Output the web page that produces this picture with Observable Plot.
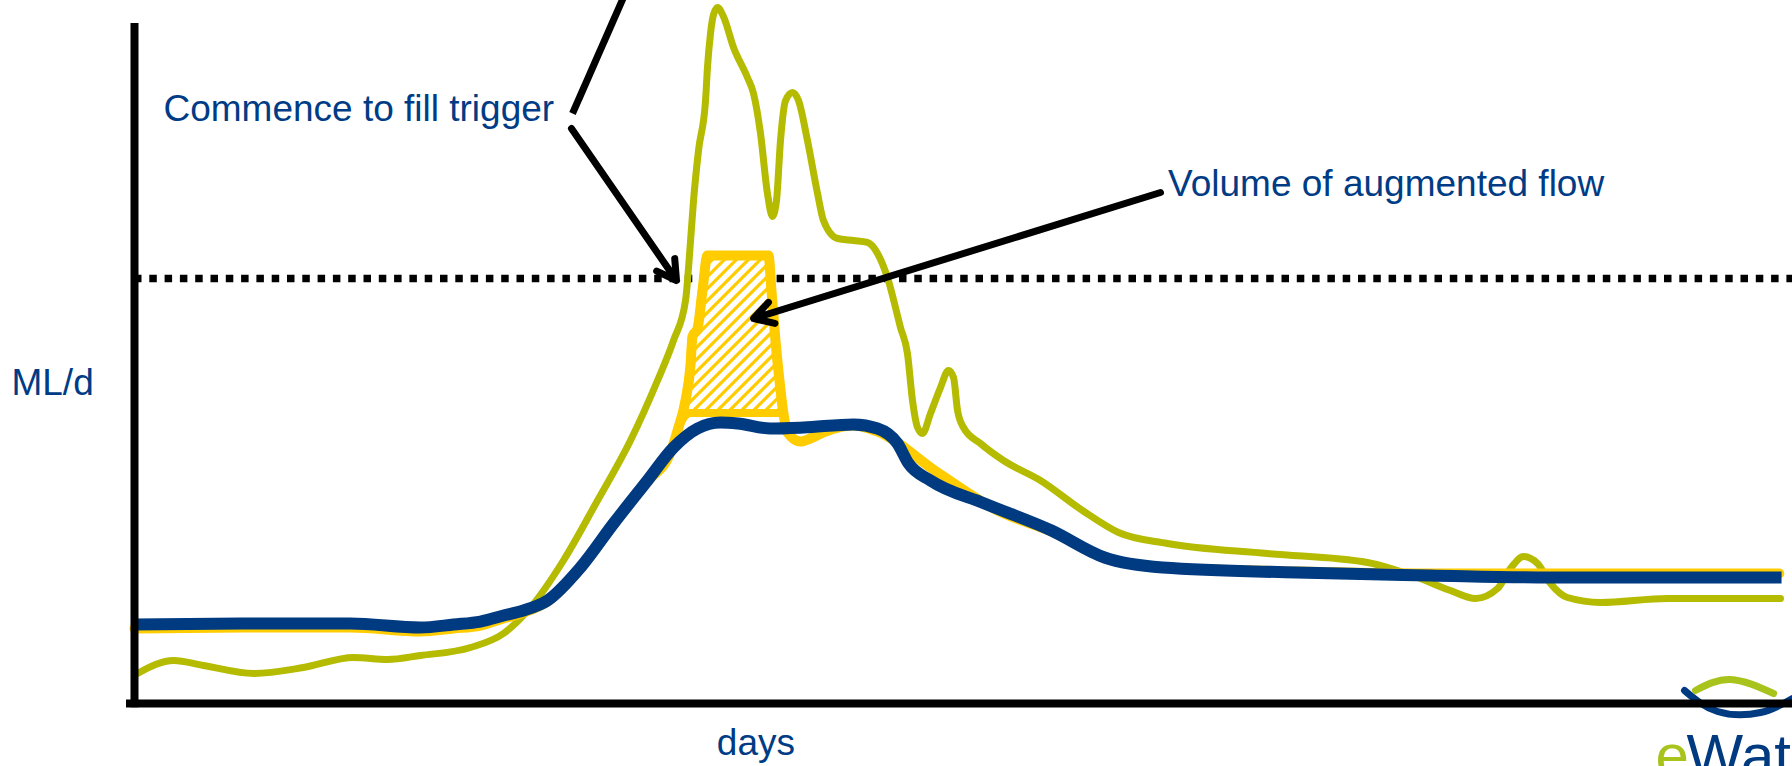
<!DOCTYPE html>
<html>
<head>
<meta charset="utf-8">
<script src="https://cdn.jsdelivr.net/npm/d3@7"></script>
<script src="https://cdn.jsdelivr.net/npm/@observablehq/plot@0.6"></script>
<style>
html, body { margin: 0; padding: 0; background: #fff; overflow: hidden; }
#chart svg { display: block; }
</style>
</head>
<body>
<div id="chart"></div>
<script>
// ---- Natural (unregulated) flow, green ----
const naturalDays = [0.19, 2.44, 4.31, 7.44, 10.56, 13.69, 15.81, 17.88, 21.0, 23.06, 24.75, 26.81, 28.94, 31.0, 32.69, 33.69, 34.44, 34.75, 34.94, 35.25, 35.69, 35.81, 36.0, 36.19, 36.44, 36.81, 37.44, 38.31, 38.69, 39.125, 39.56, 39.875, 40.125, 40.375, 40.69, 41.125, 41.5, 42.06, 42.69, 43.06, 43.94, 44.94, 45.81, 46.44, 47.06, 47.875, 48.31, 48.625, 48.94, 49.25, 49.75, 50.375, 50.875, 51.19, 51.44, 51.81, 52.875, 54.31, 56.625, 59.25, 61.5, 64.56, 70.81, 77.06, 80.19, 82.25, 83.81, 85.19, 86.0, 86.81, 87.69, 88.5, 89.56, 91.625, 95.81, 102.875];
const naturalFlow = [4.29, 6.14, 5.43, 4.29, 5.14, 6.57, 6.29, 6.86, 8.0, 10.0, 13.71, 20.43, 29.0, 37.57, 46.14, 51.86, 57.57, 66.0, 71.86, 79.0, 86.14, 90.86, 95.71, 98.43, 99.43, 98.14, 93.71, 89.43, 87.14, 81.43, 72.86, 69.57, 71.86, 80.43, 86.14, 87.29, 86.14, 80.43, 72.86, 69.0, 66.43, 66.14, 65.86, 64.29, 60.86, 53.71, 50.0, 43.29, 39.43, 38.57, 41.43, 45.14, 47.57, 46.57, 41.86, 39.43, 37.14, 34.71, 31.86, 27.57, 24.43, 22.86, 21.43, 20.14, 18.0, 16.14, 15.0, 16.43, 19.29, 21.0, 20.0, 17.14, 15.14, 14.43, 15.0, 15.0];

// ---- Regulated flow, blue ----
const regulatedDays = [0, 7.25, 13.5, 17.875, 19.94, 21.625, 23.06, 24.31, 25.81, 27.875, 29.94, 32.06, 33.69, 35.19, 36.625, 37.69, 39.75, 41.81, 44.94, 46.44, 47.69, 48.375, 49.75, 53.125, 57.31, 60.625, 64.25, 72.625, 81.0, 88.5, 102.94];
const regulatedFlow = [11.29, 11.43, 11.43, 10.86, 11.29, 11.71, 12.57, 13.29, 14.71, 19.43, 25.71, 31.86, 36.57, 39.29, 40.14, 40.0, 39.29, 39.43, 39.86, 39.29, 37.14, 34.29, 31.86, 28.57, 24.71, 20.86, 19.43, 18.71, 18.29, 18.0, 18.0];

// ---- Flow with augmentation, yellow ----
const augmentedDays = [0, 7.25, 13.5, 17.875, 19.94, 21.625, 23.06, 24.31, 25.81, 27.875, 29.94, 32.06, 33.5, 33.94, 34.44, 34.75, 34.875, 35.19, 35.5, 35.81, 39.625, 39.81, 40.06, 40.31, 40.56, 40.81, 41.625, 42.375, 43.19, 44.94, 46.44, 50.19, 53.94, 57.31, 60.625, 64.25, 72.625, 81.0, 88.5, 102.8];
const augmentedFlow = [10.71, 10.86, 10.86, 10.29, 10.71, 11.14, 12.14, 13.0, 14.57, 19.29, 25.57, 31.71, 35.86, 39.0, 43.29, 48.29, 52.43, 53.57, 59.0, 64.0, 64.0, 59.0, 51.86, 46.14, 41.43, 38.71, 37.43, 38.0, 38.86, 39.71, 38.86, 33.0, 27.57, 24.57, 20.86, 19.43, 18.86, 18.57, 18.57, 18.57];

// ---- Volume of augmented flow (hatched) ----
const volumeDays = [33.94, 34.44, 34.75, 34.875, 35.19, 35.5, 35.81, 39.625, 39.81, 40.06, 40.31, 40.56];
const volumeTop  = [39.0, 43.29, 48.29, 52.43, 53.57, 59.0, 64.0, 64.0, 59.0, 51.86, 46.14, 41.43];
const volumeBase = [39.0, 41.0, 41.43, 41.43, 41.43, 41.43, 41.43, 41.43, 41.43, 41.43, 41.43, 41.43];

// ---- Commence to fill trigger level ----
const triggerLevel = 60.71;

// ---- Axis extents ----
const xDomain = [0, 103.625];
const yDomain = [0, 100];

// ---- Annotations ----
const labelText = ["Commence to fill trigger", "Volume of augmented flow", "ML/d"];
const labelX = [1.81, 64.6, -7.69];
const labelY = [84.86, 74.2, 45.7];
const axisLabelText = ["days"];
const axisLabelX = [38.84];
const axisLabelY = [-5.71];

const arrowX1 = [27.31, 64.125];
const arrowY1 = [82.14, 73.0];
const arrowX2 = [33.875, 38.69];
const arrowY2 = [60.43, 55.0];
const leaderX1 = [27.375];
const leaderY1 = [84.29];
const leaderX2 = [30.75];
const leaderY2 = [101.86];

// ---- Logo ----
const logoText = ["e", "Water"];
const logoX = [95.06, 97.0];
const logoY = [-10.29, -10.29];
const logoGreenDays = [97.56, 99.75, 102.44];
const logoGreenFlow = [1.86, 3.43, 1.43];
const logoBlueDays = [96.875, 98.94, 101.625, 103.625];
const logoBlueFlow = [1.86, -1.14, -1.29, 0.71];

const GREEN = "#b4bb00";
const BLUE = "#003a80";
const YELLOW = "#ffcc00";
const TEXT = "#003c85";
const LOGO_GREEN = "#a8c41c";

const toRows = (xs, ys) => xs.map((x, i) => ({x, y: ys[i]}));
const natural = toRows(naturalDays, naturalFlow);
const regulated = toRows(regulatedDays, regulatedFlow);
const augmented = toRows(augmentedDays, augmentedFlow);
const volume = volumeDays.map((x, i) => ({x, y1: volumeBase[i], y2: volumeTop[i]}));
const labels = labelText.map((t, i) => ({t, x: labelX[i], y: labelY[i]}));
const axisLabels = axisLabelText.map((t, i) => ({t, x: axisLabelX[i], y: axisLabelY[i]}));
const arrows = arrowX1.map((x1, i) => ({x1, y1: arrowY1[i], x2: arrowX2[i], y2: arrowY2[i]}));
const leaders = leaderX1.map((x1, i) => ({x1, y1: leaderY1[i], x2: leaderX2[i], y2: leaderY2[i]}));
const logo = logoText.map((t, i) => ({t, x: logoX[i], y: logoY[i], c: i === 0 ? LOGO_GREEN : BLUE}));

const hatchDefs = () => {
  const ns = "http://www.w3.org/2000/svg";
  const defs = document.createElementNS(ns, "defs");
  const pat = document.createElementNS(ns, "pattern");
  pat.setAttribute("id", "hatchAug");
  pat.setAttribute("patternUnits", "userSpaceOnUse");
  pat.setAttribute("width", "12");
  pat.setAttribute("height", "12");
  const bg = document.createElementNS(ns, "rect");
  bg.setAttribute("width", "12");
  bg.setAttribute("height", "12");
  bg.setAttribute("fill", "white");
  const p = document.createElementNS(ns, "path");
  p.setAttribute("d", "M-3,3L3,-3M0,12L12,0M9,15L15,9");
  p.setAttribute("stroke", YELLOW);
  p.setAttribute("stroke-width", "3.2");
  pat.appendChild(bg);
  pat.appendChild(p);
  defs.appendChild(pat);
  return defs;
};

const chart = Plot.plot({
  width: 1792,
  height: 766,
  marginLeft: 134,
  marginRight: 0,
  marginTop: 3,
  marginBottom: 63,
  x: {domain: xDomain, axis: null},
  y: {domain: yDomain, axis: null},
  color: {type: "identity"},
  style: {fontFamily: "'Liberation Sans', Arial, sans-serif", background: "white"},
  marks: [
    hatchDefs,
    // logo
    Plot.line(toRows(logoBlueDays, logoBlueFlow), {x: "x", y: "y", stroke: BLUE, strokeWidth: 7, curve: "natural"}),
    Plot.line(toRows(logoGreenDays, logoGreenFlow), {x: "x", y: "y", stroke: LOGO_GREEN, strokeWidth: 7, curve: "natural"}),
    Plot.text(logo, {x: "x", y: "y", text: "t", fill: "c", fontSize: 60, textAnchor: "start", lineAnchor: "bottom"}),
    // trigger
    Plot.ruleY([triggerLevel], {x1: xDomain[0], x2: xDomain[1], stroke: "black", strokeWidth: 7.5, strokeDasharray: "7.5,7.8"}),
    // natural flow
    Plot.line(natural, {x: "x", y: "y", stroke: GREEN, strokeWidth: 7, curve: "monotone-x"}),
    // augmentation volume
    Plot.areaY(volume, {x: "x", y1: "y1", y2: "y2", fill: "url(#hatchAug)", stroke: YELLOW, strokeWidth: 8, strokeLinejoin: "round", curve: "monotone-x"}),
    Plot.line(augmented, {x: "x", y: "y", stroke: YELLOW, strokeWidth: 10, curve: "monotone-x"}),
    // regulated flow
    Plot.line(regulated, {x: "x", y: "y", stroke: BLUE, strokeWidth: 12, strokeLinecap: "butt", curve: "monotone-x"}),
    // axes
    Plot.ruleX([0], {y1: -0.6, y2: 97.14, stroke: "black", strokeWidth: 8}),
    Plot.ruleY([0], {x1: -0.5, x2: xDomain[1], stroke: "black", strokeWidth: 8}),
    // annotation lines
    Plot.link(leaders, {x1: "x1", y1: "y1", x2: "x2", y2: "y2", stroke: "black", strokeWidth: 7}),
    Plot.arrow(arrows, {x1: "x1", y1: "y1", x2: "x2", y2: "y2", stroke: "black", strokeWidth: 7, headAngle: 60, headLength: 4.7, strokeLinejoin: "miter"}),
    // texts
    Plot.text(labels, {x: "x", y: "y", text: "t", fill: TEXT, fontSize: 37, textAnchor: "start", lineAnchor: "middle"}),
    Plot.text(axisLabels, {x: "x", y: "y", text: "t", fill: TEXT, fontSize: 37, textAnchor: "middle", lineAnchor: "middle"})
  ]
});
document.getElementById("chart").appendChild(chart);
</script>
</body>
</html>
